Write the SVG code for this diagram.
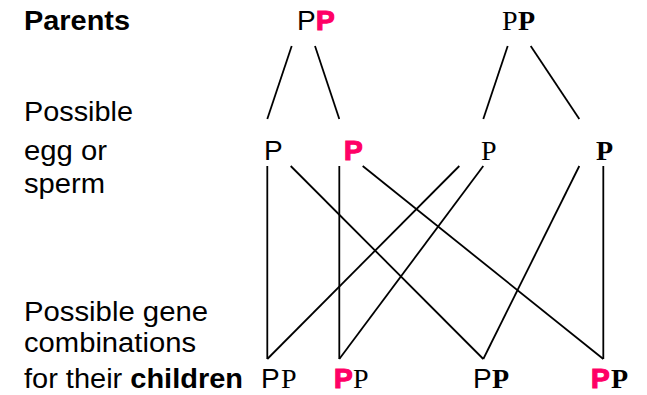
<svg xmlns="http://www.w3.org/2000/svg" width="647" height="395" viewBox="0 0 647 395">
<style>
.lbl{font-family:"Liberation Sans",Arial,sans-serif;font-size:27px;fill:#000}
.b{font-weight:bold}
.s{font-family:"Liberation Sans",Arial,sans-serif;font-size:28px;fill:#000}
.pk{font-family:"Liberation Sans",Arial,sans-serif;font-size:28px;font-weight:bold;fill:#ff0066;stroke:#ff0066;stroke-width:1.2}
.t{font-family:"Liberation Serif","Times New Roman",serif;font-size:28px;fill:#000}
.tb{font-family:"Liberation Serif","Times New Roman",serif;font-size:28px;font-weight:bold;fill:#000}
.ln{stroke:#000;stroke-width:1.8;fill:none}
</style>
<rect width="647" height="395" fill="#fff"/>
<g id="labels">
<text class="lbl b" x="24" y="30" textLength="106" lengthAdjust="spacingAndGlyphs">Parents</text>
<text class="lbl" x="24" y="121" textLength="109" lengthAdjust="spacingAndGlyphs">Possible</text>
<text class="lbl" x="24" y="160" textLength="83" lengthAdjust="spacingAndGlyphs">egg or</text>
<text class="lbl" x="24" y="193" textLength="81" lengthAdjust="spacingAndGlyphs">sperm</text>
<text class="lbl" x="24" y="321" textLength="184" lengthAdjust="spacingAndGlyphs">Possible gene</text>
<text class="lbl" x="24" y="352" textLength="172" lengthAdjust="spacingAndGlyphs">combinations</text>
<text class="lbl" x="24" y="388" textLength="219" lengthAdjust="spacingAndGlyphs">for their <tspan class="b">children</tspan></text>
</g>
<g id="parent1"><text class="s" x="297" y="30">P</text><text class="pk" x="316" y="30">P</text></g>
<g id="parent2"><text class="t" x="502" y="30">P</text><text class="tb" x="518" y="30">P</text></g>
<g id="gamete1"><text class="s" x="264" y="160">P</text></g>
<g id="gamete2"><text class="pk" x="344" y="160">P</text></g>
<g id="gamete3"><text class="t" x="481" y="160">P</text></g>
<g id="gamete4"><text class="tb" x="596" y="160">P</text></g>
<g id="child1"><text class="s" x="261" y="388">P</text><text class="t" x="281" y="388">P</text></g>
<g id="child2"><text class="pk" x="334" y="388">P</text><text class="t" x="353" y="388">P</text></g>
<g id="child3"><text class="s" x="473" y="388">P</text><text class="tb" x="492" y="388">P</text></g>
<g id="child4"><text class="pk" x="591" y="388">P</text><text class="tb" x="611" y="388">P</text></g>
<g id="connectors" class="ln">
<line x1="291.7" y1="46" x2="267.3" y2="119"/>
<line x1="315" y1="46" x2="339.3" y2="119"/>
<line x1="507.7" y1="46" x2="483.3" y2="119"/>
<line x1="530.7" y1="46" x2="579.3" y2="119"/>
<line x1="267.3" y1="166" x2="267.3" y2="359"/>
<line x1="290.7" y1="166" x2="483.3" y2="359"/>
<line x1="339.3" y1="166" x2="339.3" y2="359"/>
<line x1="362.7" y1="166" x2="603.3" y2="359"/>
<line x1="459.3" y1="166" x2="267.3" y2="359"/>
<line x1="483.3" y1="166" x2="339.3" y2="359"/>
<line x1="579.3" y1="166" x2="483.3" y2="359"/>
<line x1="603.3" y1="166" x2="603.3" y2="359"/>
</g>
</svg>
